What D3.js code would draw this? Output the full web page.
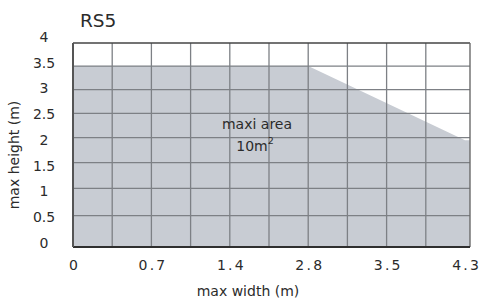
<!DOCTYPE html>
<html>
<head>
<meta charset="utf-8">
<script src="https://cdn.jsdelivr.net/npm/d3@7"></script>
<style>
  body { margin: 0; background: #fff; }
  text { font-family: "DejaVu Sans", Verdana, sans-serif; fill: #2b2b2b; }
</style>
</head>
<body>
<div id="chart"></div>
<script>
// data
var widthTicks = [0, 0.7, 1.4, 2.8, 3.5, 4.3];
var heightTicks = [0, 0.5, 1, 1.5, 2, 2.5, 3, 3.5, 4];
var areaWidth = [0, 2.8, 4.3];
var areaHeight = [3.5, 3.5, 1.95];
var gridCols = d3.range(0, 11);

var margin = { top: 43, right: 14, bottom: 54, left: 73 },
    width = 484 - margin.left - margin.right,
    height = 301 - margin.top - margin.bottom;

var svg = d3.select("#chart")
  .append("svg")
  .attr("width", 484)
  .attr("height", 301)
  .append("g")
  .attr("transform", "translate(" + margin.left + "," + margin.top + ")");

// grid columns (the last column of the sheet is a little wider)
var col = d3.scaleLinear().domain([0, 10]).range([0, width - 5]);

// tick labels sit every two columns
var x = d3.scaleLinear()
  .domain(widthTicks)
  .range(widthTicks.map(function(d, i) { return col(i * 2); }));

// grid rows are drawn a bit tighter near the top
var y = d3.scalePow().exponent(0.9).domain([0, 4]).range([height, 0]);
var yLab = d3.scaleLinear().domain([0, 4]).range([height - 4, -6]);

// max area polygon
var pts = [[x(0), y(0)]];
areaWidth.forEach(function(w, i) { pts.push([x(w), y(areaHeight[i])]); });
pts.push([width, y(areaHeight[areaHeight.length - 1])]);
pts.push([width, y(0)]);

svg.append("path")
  .attr("d", d3.line()(pts) + "Z")
  .attr("fill", "#c8ccd3");

// grid
svg.append("g")
  .selectAll("line")
  .data(gridCols.slice(1, 10))
  .enter()
  .append("line")
    .attr("x1", function(d) { return col(d); })
    .attr("x2", function(d) { return col(d); })
    .attr("y1", 0)
    .attr("y2", height)
    .attr("stroke", "#7d8085")
    .attr("stroke-width", 1.3);

svg.append("g")
  .selectAll("line")
  .data(heightTicks.slice(1, 8))
  .enter()
  .append("line")
    .attr("x1", 0)
    .attr("x2", width)
    .attr("y1", function(d) { return y(d); })
    .attr("y2", function(d) { return y(d); })
    .attr("stroke", "#7d8085")
    .attr("stroke-width", 1.3);

// frame
svg.append("line").attr("x1", 0).attr("x2", width).attr("y1", 0).attr("y2", 0)
  .attr("stroke", "#444").attr("stroke-width", 1.6);
svg.append("line").attr("x1", width).attr("x2", width).attr("y1", 0).attr("y2", height)
  .attr("stroke", "#6a6a6a").attr("stroke-width", 1.4);
svg.append("line").attr("x1", 0).attr("x2", width).attr("y1", height).attr("y2", height)
  .attr("stroke", "#2f2f2f").attr("stroke-width", 2);
svg.append("line").attr("x1", 0).attr("x2", 0).attr("y1", 0).attr("y2", height)
  .attr("stroke", "#555").attr("stroke-width", 2);

// Y axis labels
var yAxis = svg.append("g")
  .call(d3.axisLeft(yLab).tickValues(heightTicks).tickSize(0).tickFormat(d3.format("")));
yAxis.select(".domain").remove();
yAxis.selectAll("text")
  .attr("x", -29)
  .attr("text-anchor", "middle")
  .style("font-family", "DejaVu Sans, Verdana, sans-serif")
  .style("font-size", "14px")
  .style("fill", "#2b2b2b");

// X axis labels
var xAxis = svg.append("g")
  .attr("transform", "translate(0," + height + ")")
  .call(d3.axisBottom(x).tickValues(widthTicks).tickSize(0).tickFormat(d3.format("")));
xAxis.select(".domain").remove();
xAxis.selectAll("text")
  .attr("y", 23)
  .attr("dy", 0)
  .attr("dx", 1.1)
  .style("letter-spacing", "2.2px")
  .style("font-family", "DejaVu Sans, Verdana, sans-serif")
  .style("font-size", "14px")
  .style("fill", "#2b2b2b");

// titles
svg.append("text")
  .attr("x", 7)
  .attr("y", -16)
  .style("font-size", "18.5px")
  .text("RS5");

svg.append("text")
  .attr("x", 175)
  .attr("y", height + 49)
  .attr("text-anchor", "middle")
  .style("font-size", "14px")
  .text("max width (m)");

svg.append("text")
  .attr("transform", "translate(-54," + (height / 2 + 10) + ") rotate(-90)")
  .attr("text-anchor", "middle")
  .style("font-size", "14px")
  .text("max height (m)");

// area note
svg.append("text")
  .attr("x", 184)
  .attr("y", 86)
  .attr("text-anchor", "middle")
  .style("font-size", "14px")
  .text("maxi area");

var note = svg.append("text")
  .attr("x", 182)
  .attr("y", 108)
  .attr("text-anchor", "middle")
  .style("font-size", "14px");
note.append("tspan").text("10m");
note.append("tspan").attr("dy", -7).style("font-size", "9.5px").text("2");

</script>
</body>
</html>
